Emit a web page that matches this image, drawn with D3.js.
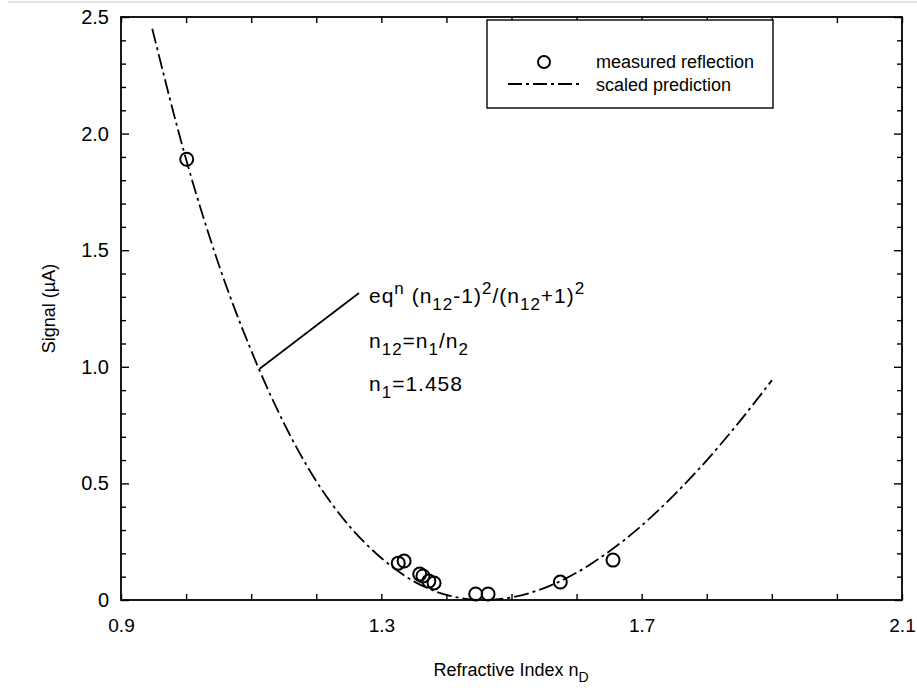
<!DOCTYPE html>
<html>
<head>
<meta charset="utf-8">
<script src="https://cdn.jsdelivr.net/npm/d3@7"></script>
<style>
  body { margin: 0; background: #fff; }
  svg { display: block; font-family: "Liberation Sans", Arial, Helvetica, sans-serif; }
</style>
</head>
<body>
<svg id="chart"></svg>
<script>
// measured reflection points (refractive index, signal in µA)
const measuredN = [1.001, 1.326, 1.335, 1.359, 1.364, 1.373, 1.381, 1.445, 1.464, 1.575, 1.656];
const measuredSignal = [1.89, 0.158, 0.167, 0.111, 0.103, 0.081, 0.073, 0.026, 0.026, 0.077, 0.171];

// scaled prediction curve
const predN = [0.948, 1.0, 1.05, 1.1, 1.15, 1.2, 1.25, 1.3, 1.35, 1.4, 1.458, 1.5, 1.55, 1.6, 1.65, 1.7, 1.75, 1.8, 1.85, 1.9];
const predSignal = [2.45, 1.89, 1.44, 1.07, 0.76, 0.51, 0.32, 0.18, 0.08, 0.022, 0, 0.011, 0.051, 0.117, 0.208, 0.319, 0.451, 0.599, 0.764, 0.942];

const xTicks = [0.9, 1.0, 1.1, 1.2, 1.3, 1.4, 1.5, 1.6, 1.7, 1.8, 1.9, 2.0, 2.1];
const xTickLabels = ["0.9", "1.3", "1.7", "2.1"];
const yTicks = d3.range(0, 26).map(d => d / 10);
const yTickLabels = ["0", "0.5", "1.0", "1.5", "2.0", "2.5"];

const legendItems = ["measured reflection", "scaled prediction"];

const width = 917, height = 688;

const svg = d3.select("#chart")
  .attr("width", width)
  .attr("height", height)
  .attr("viewBox", [0, 0, width, height]);

// faint scan line at the very top
svg.append("line")
  .attr("x1", 8).attr("x2", width)
  .attr("y1", 2).attr("y2", 2)
  .attr("stroke", "#d8d8d8").attr("stroke-width", 1.5);

const x = d3.scaleLinear().domain([0.9, 2.1]).range([121, 902]);
const y = d3.scaleLinear().domain([0, 2.5]).range([600, 17]);

const fmtX = d => {
  const s = d.toFixed(1);
  return xTickLabels.includes(s) ? s : "";
};
const fmtY = d => {
  const s = d === 0 ? "0" : d.toFixed(1);
  return yTickLabels.includes(s) ? s : "";
};

const styleAxis = (g, fontSize) => {
  g.select(".domain").remove();
  g.selectAll(".tick line").attr("stroke", "#000").attr("stroke-width", 1.4);
  g.selectAll(".tick text").attr("fill", "#000").attr("font-size", fontSize);
};

svg.append("g")
  .attr("transform", `translate(0,${y(0)})`)
  .call(d3.axisBottom(x).tickValues(xTicks).tickSize(-6).tickPadding(19).tickFormat(fmtX))
  .call(g => styleAxis(g, 19));

svg.append("g")
  .attr("transform", `translate(0,${y(2.5)})`)
  .call(d3.axisTop(x).tickValues(xTicks).tickSize(-6).tickFormat(""))
  .call(g => styleAxis(g, 19));

svg.append("g")
  .attr("transform", `translate(${x(0.9)},0)`)
  .call(d3.axisLeft(y).tickValues(yTicks).tickSize(-5).tickPadding(12).tickFormat(fmtY))
  .call(g => {
    styleAxis(g, 20);
    g.selectAll(".tick line").attr("x2", d => fmtY(d) ? 8 : 5);
  });

svg.append("g")
  .attr("transform", `translate(${x(2.1)},0)`)
  .call(d3.axisRight(y).tickValues(yTicks).tickSize(-5).tickFormat(""))
  .call(g => {
    styleAxis(g, 20);
    g.selectAll(".tick line").attr("x2", d => fmtY(d) ? -8 : -5);
  });

// frame
svg.append("rect")
  .attr("x", x(0.9)).attr("y", y(2.5))
  .attr("width", x(2.1) - x(0.9)).attr("height", y(0) - y(2.5))
  .attr("fill", "none").attr("stroke", "#000").attr("stroke-width", 1.8);

// axis titles
svg.append("text")
  .attr("x", 511).attr("y", 676)
  .attr("text-anchor", "middle").attr("font-size", 18)
  .call(t => {
    t.append("tspan").text("Refractive Index n");
    t.append("tspan").attr("dy", 6).attr("font-size", 14).text("D");
  });

svg.append("text")
  .attr("transform", `translate(55,${(y(0) + y(2.5)) / 2}) rotate(-90)`)
  .attr("text-anchor", "middle").attr("font-size", 18)
  .text("Signal (µA)");

// prediction curve
const pred = predN.map((n, i) => ({ n, s: predSignal[i] }));
svg.append("path")
  .datum(pred)
  .attr("fill", "none")
  .attr("stroke", "#000")
  .attr("stroke-width", 1.8)
  .attr("stroke-dasharray", "15,4,3,4")
  .attr("d", d3.line().x(d => x(d.n)).y(d => y(d.s)).curve(d3.curveMonotoneX));

// measured points
const measured = measuredN.map((n, i) => ({ n, s: measuredSignal[i] }));
svg.selectAll(".pt")
  .data(measured)
  .join("circle")
    .attr("class", "pt")
    .attr("cx", d => x(d.n))
    .attr("cy", d => y(d.s))
    .attr("r", 6.5)
    .attr("fill", "none")
    .attr("stroke", "#000")
    .attr("stroke-width", 2);

// annotation
const annoX = 369;
const richText = (parts, xPos, yPos) => {
  const t = svg.append("text")
    .attr("x", xPos).attr("y", yPos)
    .attr("font-size", 21)
    .attr("letter-spacing", 1);
  let shift = 0;
  parts.forEach(([txt, kind]) => {
    const target = kind === "sup" ? -9 : kind === "sub" ? 7 : 0;
    t.append("tspan")
      .attr("dy", target - shift)
      .attr("font-size", kind ? 17 : 21)
      .text(txt);
    shift = target;
  });
};
richText([["eq"], ["n", "sup"], [" (n"], ["12", "sub"], ["-1)"], ["2", "sup"], ["/(n"], ["12", "sub"], ["+1)"], ["2", "sup"]], annoX, 303);
richText([["n"], ["12", "sub"], ["=n"], ["1", "sub"], ["/n"], ["2", "sub"]], annoX, 348);
richText([["n"], ["1", "sub"], ["=1.458"]], annoX, 391);

svg.append("line")
  .attr("x1", 359).attr("y1", 293)
  .attr("x2", x(1.113)).attr("y2", y(1.0) + 2)
  .attr("stroke", "#000").attr("stroke-width", 1.7);

// legend
const legend = svg.append("g");
legend.append("rect")
  .attr("x", 487).attr("y", 20)
  .attr("width", 286).attr("height", 88)
  .attr("fill", "#fff").attr("stroke", "#000").attr("stroke-width", 1.4);
legend.append("circle")
  .attr("cx", 544).attr("cy", 62).attr("r", 6)
  .attr("fill", "none").attr("stroke", "#000").attr("stroke-width", 2);
legend.append("line")
  .attr("x1", 508).attr("x2", 580).attr("y1", 84).attr("y2", 84)
  .attr("stroke", "#000").attr("stroke-width", 1.8)
  .attr("stroke-dasharray", "14,4,3,4");
legend.selectAll(".lab")
  .data(legendItems)
  .join("text")
    .attr("class", "lab")
    .attr("x", 596)
    .attr("y", (d, i) => 68 + i * 23)
    .attr("font-size", 18)
    .text(d => d);
</script>
</body>
</html>
